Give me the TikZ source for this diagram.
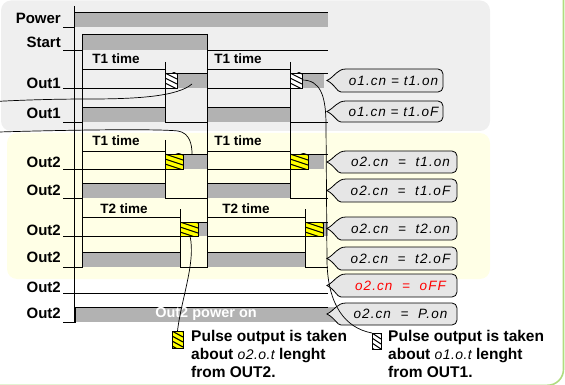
\documentclass[tikz,border=0pt]{standalone}
\usepackage{fontspec}
\setmainfont{Liberation Sans}
\newfontfamily\segfont{Liberation Sans}[LetterSpace=8]
\newfontfamily\seginline{Liberation Sans}[LetterSpace=3]
\definecolor{panelgray}{HTML}{EFEFEF}
\definecolor{panelyellow}{HTML}{FFFFE6}
\definecolor{bargray}{HTML}{B2B2B2}
\definecolor{callgray}{HTML}{E6E6E6}
\definecolor{hatchyellow}{HTML}{FFFF00}
\definecolor{framegreen}{HTML}{B0DC80}
\tikzset{
  lbl/.style={font=\bfseries\fontsize{15}{15}\selectfont, anchor=east, inner sep=0pt},
  tlbl/.style={font=\bfseries\fontsize{13.5}{13.5}\selectfont, inner sep=0pt},
  wave/.style={line width=0.9pt, draw=black},
  guide/.style={line width=0.8pt, draw=black},
  bar/.style={fill=bargray, draw=none},
  callbox/.style={fill=callgray, draw=black, line width=0.8pt},
  segtext/.style={font=\segfont\itshape\fontsize{13.5}{13.5}\selectfont, inner sep=0pt},
  link/.style={line width=0.7pt, draw=black},
  legtext/.style={font=\bfseries\fontsize{15.5}{18}\selectfont, align=left, inner sep=0pt, anchor=north west},
}
\newcommand\mycallout[6]{%
  \pgfmathsetmacro\cym{(#2+#3)/2}%
  \coordinate (#1tip) at (327,\cym);
  \filldraw[callbox] (#1tip) .. controls (335,\cym-4) and (337,#2) .. (346,#2)
     [rounded corners=5pt] -- (#4,#2) -- (#4,#3) -- (346,#3) [sharp corners]
     .. controls (337,#3) and (335,\cym+4) .. (#1tip) -- cycle;
  \node[segtext, text=#6] (#1) at ({(344+#4)/2},\cym) {#5};
}
\newcommand\myhatch[6]{%
  \fill[#6] (#2,#3) rectangle (#4,#5);
  \begin{scope}
    \clip (#2,#3) rectangle (#4,#5);
    \foreach \k in {-20,-15,...,20}
      \draw[line width=1.1pt, shift={(0,\k)}] (#2,#3) -- (#4,#3+6);
  \end{scope}
  \draw[line width=0.8pt] (#2,#3) rectangle (#4,#5);
  \coordinate (#1) at ({(#2+#4)/2},{(#3+#5)/2});
}
\begin{document}
\begin{tikzpicture}[x=1pt,y=-1pt]
\useasboundingbox (0,0) rectangle (565,385);
\begin{scope}
\clip (0,0) rectangle (565,385);
% panels
\fill[panelgray, rounded corners=10pt] (1,0.5) rectangle (490,131);
\fill[panelyellow, rounded corners=10pt] (7,133) rectangle (490,279);
\draw[framegreen, line width=1.6pt, rounded corners=16pt] (-60,-60) rectangle (563.5,385.3);

% grey bars
\fill[bargray] (74,12) rectangle (328,27);
\fill[bargray] (82,34) rectangle (207,50);
\fill[bargray] (177,73) rectangle (207,88);
\fill[bargray] (302,73) rectangle (324,88);
\fill[bargray] (82,107) rectangle (165,122);
\fill[bargray] (207,107) rectangle (290,122);
\fill[bargray] (183,154) rectangle (207,169);
\fill[bargray] (308,154) rectangle (324,169);
\fill[bargray] (82,183) rectangle (165,198);
\fill[bargray] (207,183) rectangle (290,198);
\fill[bargray] (198,222) rectangle (207,236);
\fill[bargray] (323,222) rectangle (328,236);
\fill[bargray] (82,252) rectangle (180,267);
\fill[bargray] (207,252) rectangle (305,267);
\fill[bargray] (75,307) rectangle (335,322);

% guides
\draw[guide] (74,6) -- (74,322);
\draw[guide] (82,34) -- (82,267);
\draw[guide] (207,34) -- (207,267);
\draw[guide] (165,62) -- (165,122);
\draw[guide] (165,140) -- (165,198);
\draw[guide] (290,62) -- (290,198);
\draw[guide] (180,209) -- (180,267);
\draw[guide] (305,209) -- (305,267);

% waveforms
\draw[wave] (63,27) -- (74,27) -- (74,12) -- (328,12);
\draw[wave] (63,50) -- (82,50) -- (82,34) -- (207,34) -- (207,50) -- (328,50);
\draw[wave] (63,88) -- (165,88) -- (165,73) -- (207,73) -- (207,88) -- (290,88) -- (290,73) -- (328,73);
\draw[wave] (63,122) -- (82,122) -- (82,107) -- (165,107) -- (165,122) -- (207,122) -- (207,107) -- (290,107) -- (290,122) -- (328,122);
\draw[wave] (63,169) -- (165,169) -- (165,154) -- (207,154) -- (207,169) -- (290,169) -- (290,154) -- (328,154);
\draw[wave] (63,198) -- (82,198) -- (82,183) -- (165,183) -- (165,198) -- (207,198) -- (207,183) -- (290,183) -- (290,198) -- (328,198);
\draw[wave] (63,236) -- (180,236) -- (180,222) -- (207,222) -- (207,236) -- (305,236) -- (305,222) -- (328,222);
\draw[wave] (63,267) -- (82,267) -- (82,252) -- (180,252) -- (180,267) -- (207,267) -- (207,252) -- (305,252) -- (305,267) -- (328,267);
\draw[wave] (63,293) -- (328,293);
\draw[wave] (63,322) -- (75,322) -- (75,307) -- (328,307);

% time brackets
\draw[guide] (82,69) -- (165,69);
\draw[guide] (207,69) -- (290,69);
\draw[guide] (82,151) -- (165,151);
\draw[guide] (207,151) -- (290,151);
\draw[guide] (82,217) -- (180,217);
\draw[guide] (207,217) -- (305,217);
\node[tlbl] (t1a) at (116,59) {T1 time};
\node[tlbl] (t1b) at (238,59) {T1 time};
\node[tlbl] (t1c) at (116,141) {T1 time};
\node[tlbl] (t1d) at (238,141) {T1 time};
\node[tlbl] (t2a) at (124,209) {T2 time};
\node[tlbl] (t2b) at (246,209) {T2 time};

% hatched pulse parts
\myhatch{hwA}{165}{73}{177}{88}{white}
\myhatch{hwB}{290}{73}{302}{88}{white}
\myhatch{hyA}{165}{154}{183}{169}{hatchyellow}
\myhatch{hyB}{290}{154}{308}{169}{hatchyellow}
\myhatch{hyC}{180}{222}{198}{236}{hatchyellow}
\myhatch{hyD}{305}{222}{323}{236}{hatchyellow}

% labels
\node[lbl] (lPower) at (61,18) {Power};
\node[lbl] (lStart) at (61,42) {Start};
\node[lbl] (lO1a) at (61,83) {Out1};
\node[lbl] (lO1b) at (61,113) {Out1};
\node[lbl] (lO2a) at (61,162) {Out2};
\node[lbl] (lO2b) at (61,190) {Out2};
\node[lbl] (lO2c) at (61,230) {Out2};
\node[lbl] (lO2d) at (61,257) {Out2};
\node[lbl] (lO2e) at (61,287) {Out2};
\node[lbl] (lO2f) at (61,313) {Out2};
\node[font=\bfseries\fontsize{14.5}{14.5}\selectfont, text=white, inner sep=0pt] (pon) at (206,314) {Out2 power on};

% callouts
\mycallout{c1}{69}{92}{443}{o1.cn = t1.on}{black}
\mycallout{c2}{101}{122}{443}{o1.cn = t1.oF}{black}
\mycallout{c3}{151}{173}{457}{o2.cn \ = \ t1.on}{black}
\mycallout{c4}{179}{202}{457}{o2.cn \ = \ t1.oF}{black}
\mycallout{c5}{217}{240}{457}{o2.cn \ = \ t2.on}{black}
\mycallout{c6}{247}{270}{457}{o2.cn \ = \ t2.oF}{black}
\mycallout{c7}{274}{297}{457}{o2.cn \ = \ oFF}{red}
\mycallout{c8}{303}{325}{457}{o2.cn \ = \ P.on}{black}

% legend icons
\myhatch{legY}{172}{331}{183}{348}{hatchyellow}
\myhatch{legW}{372}{333}{381}{349}{white}
\coordinate (legYtop) at (177.5,331);
\coordinate (legWcorner) at (372,333);
\node[legtext] (txtY) at (191,330) {Pulse output is taken\\about {\seginline\mdseries\itshape\fontsize{14}{18}\selectfont o2.o.t} lenght\\from OUT2.};
\node[legtext] (txtW) at (388,330) {Pulse output is taken\\about {\seginline\mdseries\itshape\fontsize{14}{18}\selectfont o1.o.t} lenght\\from OUT1.};

% connectors
\coordinate (srcA) at (302,80);
\draw[link] (srcA) .. controls (320,80) and (326,95) .. (326,125) -- (327,262) .. controls (328,305) and (345,328) .. (legWcorner);
\coordinate (srcB) at (192,84);
\coordinate (dstB) at (192,154);
\draw[link] (srcB) .. controls (178,96) and (140,99) .. (90,99) .. controls (40,99) and (0,101) .. (-30,103) .. controls (-60,105) and (-60,131) .. (-30,133) .. controls (20,131) and (150,128) .. (178,131) .. controls (190,133) and (192,145) .. (dstB);
\coordinate (srcC) at (190,236);
\draw[link] (srcC) .. controls (196,262) and (181,300) .. (legYtop);
\end{scope}
\end{tikzpicture}
\end{document}
